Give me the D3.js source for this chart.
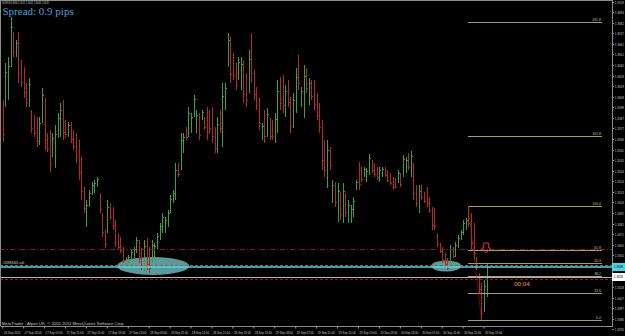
<!DOCTYPE html>
<html><head><meta charset="utf-8">
<script src="https://cdn.jsdelivr.net/npm/d3@7"></script>
<style>html,body{margin:0;padding:0;background:#000;overflow:hidden}svg{display:block}
.spread{font-family:"Liberation Serif","Times New Roman",serif;font-weight:400}</style>
</head><body>
<svg id="c" width="625" height="336"></svg>
<script>
// ---- data (EURUSD, M30) ----
const highs=[1.3605,1.3642,1.3648,1.3688,1.3673,1.3665,1.3673,1.3645,1.3638,1.3622,
1.3627,1.3595,1.3590,1.3588,1.3588,1.3617,1.3607,1.3572,1.3575,1.3572,
1.3580,1.3592,1.3602,1.3605,1.3585,1.3583,1.3583,1.3575,1.3572,1.3565,
1.3548,1.3518,1.3505,1.3515,1.3523,1.3525,1.3528,1.3512,1.3492,1.3475,
1.3505,1.3502,1.3498,1.3485,1.3472,1.3468,1.3458,1.3448,1.3450,1.3455,
1.3458,1.3468,1.3465,1.3457,1.3465,1.3467,1.3458,1.3465,1.3462,1.3472,
1.3482,1.3492,1.3488,1.3495,1.3510,1.3515,1.3542,1.3542,1.3572,1.3572,
1.3578,1.3598,1.3592,1.3610,1.3595,1.3592,1.3595,1.3588,1.3598,1.3595,
1.3598,1.3578,1.3588,1.3595,1.3622,1.3622,1.3672,1.3668,1.3652,1.3642,
1.3648,1.3648,1.3645,1.3632,1.3655,1.3672,1.3635,1.3618,1.3608,1.3582,
1.3595,1.3597,1.3587,1.3585,1.3592,1.3625,1.3628,1.3630,1.3620,1.3625,
1.3608,1.3612,1.3637,1.3650,1.3618,1.3640,1.3637,1.3627,1.3625,1.3625,
1.3612,1.3602,1.3585,1.3565,1.3565,1.3558,1.3525,1.3523,1.3522,1.3513,
1.3522,1.3512,1.3505,1.3500,1.3508,1.3525,1.3543,1.3538,1.3538,1.3537,
1.3551,1.3545,1.3542,1.3538,1.3538,1.3538,1.3538,1.3535,1.3532,1.3528,
1.3527,1.3535,1.3532,1.3550,1.3548,1.3552,1.3554,1.3542,1.3520,1.3520,
1.3520,1.3513,1.3518,1.3508,1.3498,1.3497,1.3472,1.3462,1.3458,1.3452,
1.3447,1.3460,1.3458,1.3463,1.3470,1.3475,1.3485,1.3487,1.3499,1.3492,
1.3482,1.3448,1.3432,1.3422,1.3425,1.3442];
const lows=[1.3563,1.3598,1.3605,1.3638,1.3648,1.3648,1.3622,1.3618,1.3607,1.3598,
1.3598,1.3572,1.3568,1.3558,1.3560,1.3582,1.3555,1.3553,1.3533,1.3548,
1.3537,1.3567,1.3568,1.3565,1.3567,1.3568,1.3562,1.3555,1.3542,1.3525,
1.3505,1.3492,1.3478,1.3498,1.3510,1.3512,1.3518,1.3492,1.3468,1.3457,
1.3472,1.3485,1.3475,1.3458,1.3455,1.3452,1.3442,1.3440,1.3442,1.3445,
1.3447,1.3452,1.3442,1.3435,1.3433,1.3435,1.3432,1.3442,1.3445,1.3455,
1.3465,1.3472,1.3472,1.3478,1.3492,1.3502,1.3505,1.3528,1.3535,1.3552,
1.3565,1.3568,1.3572,1.3588,1.3572,1.3565,1.3585,1.3575,1.3565,1.3572,
1.3562,1.3552,1.3552,1.3572,1.3558,1.3595,1.3638,1.3622,1.3625,1.3615,
1.3625,1.3615,1.3602,1.3598,1.3612,1.3622,1.3605,1.3595,1.3575,1.3565,
1.3562,1.3568,1.3565,1.3565,1.3562,1.3572,1.3595,1.3592,1.3588,1.3598,
1.3572,1.3577,1.3592,1.3615,1.3598,1.3587,1.3612,1.3600,1.3605,1.3595,
1.3585,1.3572,1.3535,1.3528,1.3517,1.3535,1.3502,1.3498,1.3483,1.3485,
1.3482,1.3488,1.3482,1.3482,1.3488,1.3515,1.3515,1.3523,1.3528,1.3523,
1.3530,1.3532,1.3528,1.3525,1.3523,1.3528,1.3528,1.3523,1.3520,1.3515,
1.3517,1.3522,1.3518,1.3528,1.3532,1.3535,1.3528,1.3505,1.3498,1.3492,
1.3505,1.3502,1.3498,1.3492,1.3475,1.3475,1.3458,1.3452,1.3442,1.3438,
1.3435,1.3438,1.3447,1.3448,1.3457,1.3465,1.3470,1.3475,1.3478,1.3455,
1.3445,1.3435,1.3412,1.3385,1.3393,1.3408];
const opens=[1.3597,1.3607,1.3614,1.3648,1.3668,1.3651,1.3663,1.3640,1.3632,1.3617,
1.3604,1.3590,1.3586,1.3582,1.3566,1.3589,1.3597,1.3568,1.3567,1.3553,
1.3546,1.3572,1.3575,1.3597,1.3581,1.3571,1.3579,1.3571,1.3566,1.3557,
1.3539,1.3513,1.3483,1.3501,1.3513,1.3515,1.3520,1.3508,1.3487,1.3471,
1.3479,1.3499,1.3493,1.3480,1.3469,1.3465,1.3455,1.3442,1.3444,1.3447,
1.3449,1.3455,1.3460,1.3453,1.3439,1.3461,1.3453,1.3447,1.3448,1.3458,
1.3468,1.3476,1.3475,1.3481,1.3496,1.3505,1.3512,1.3539,1.3542,1.3556,
1.3575,1.3574,1.3576,1.3592,1.3577,1.3587,1.3587,1.3585,1.3591,1.3590,
1.3591,1.3573,1.3559,1.3590,1.3571,1.3600,1.3645,1.3659,1.3647,1.3637,
1.3630,1.3622,1.3636,1.3625,1.3621,1.3662,1.3629,1.3613,1.3601,1.3568,
1.3588,1.3574,1.3583,1.3581,1.3568,1.3583,1.3621,1.3622,1.3594,1.3620,
1.3601,1.3584,1.3601,1.3643,1.3602,1.3598,1.3632,1.3605,1.3621,1.3619,
1.3607,1.3596,1.3575,1.3558,1.3527,1.3553,1.3507,1.3518,1.3491,1.3507,
1.3490,1.3507,1.3487,1.3486,1.3492,1.3517,1.3537,1.3535,1.3530,1.3526,
1.3534,1.3542,1.3539,1.3535,1.3526,1.3530,1.3536,1.3533,1.3530,1.3525,
1.3525,1.3525,1.3529,1.3532,1.3535,1.3549,1.3533,1.3535,1.3516,1.3498,
1.3517,1.3511,1.3514,1.3505,1.3493,1.3493,1.3469,1.3460,1.3455,1.3449,
1.3445,1.3442,1.3456,1.3451,1.3460,1.3467,1.3473,1.3477,1.3494,1.3485,
1.3475,1.3445,1.3428,1.3415,1.3399,1.3415];
const closes=[1.3571,1.3633,1.3639,1.3678,1.3653,1.3662,1.3632,1.3623,1.3613,1.3603,
1.3621,1.3577,1.3572,1.3564,1.3582,1.3610,1.3565,1.3557,1.3541,1.3567,
1.3571,1.3587,1.3595,1.3573,1.3571,1.3580,1.3566,1.3559,1.3548,1.3533,
1.3514,1.3497,1.3500,1.3512,1.3520,1.3522,1.3526,1.3496,1.3473,1.3461,
1.3498,1.3488,1.3480,1.3463,1.3458,1.3455,1.3445,1.3446,1.3448,1.3453,
1.3456,1.3465,1.3447,1.3439,1.3459,1.3441,1.3437,1.3460,1.3459,1.3469,
1.3479,1.3488,1.3485,1.3492,1.3506,1.3512,1.3535,1.3531,1.3565,1.3568,
1.3568,1.3592,1.3588,1.3606,1.3590,1.3570,1.3593,1.3578,1.3572,1.3577,
1.3569,1.3557,1.3581,1.3577,1.3609,1.3617,1.3665,1.3631,1.3630,1.3620,
1.3643,1.3641,1.3611,1.3605,1.3646,1.3632,1.3611,1.3600,1.3582,1.3579,
1.3569,1.3591,1.3569,1.3569,1.3586,1.3614,1.3602,1.3600,1.3614,1.3603,
1.3579,1.3605,1.3628,1.3622,1.3614,1.3629,1.3617,1.3622,1.3609,1.3601,
1.3590,1.3578,1.3545,1.3535,1.3555,1.3540,1.3520,1.3503,1.3514,1.3491,
1.3514,1.3493,1.3500,1.3496,1.3504,1.3523,1.3521,1.3526,1.3536,1.3534,
1.3547,1.3535,1.3531,1.3528,1.3535,1.3536,1.3530,1.3525,1.3522,1.3518,
1.3519,1.3532,1.3521,1.3546,1.3545,1.3538,1.3549,1.3512,1.3502,1.3514,
1.3508,1.3504,1.3502,1.3495,1.3480,1.3479,1.3461,1.3454,1.3445,1.3441,
1.3437,1.3456,1.3449,1.3460,1.3467,1.3473,1.3482,1.3485,1.3482,1.3462,
1.3452,1.3438,1.3416,1.3392,1.3419,1.3428];

const timeLabels=["26 Sep 2011","27 Sep 03:00","27 Sep 07:00","27 Sep 11:00","27 Sep 15:00","27 Sep 19:00",
"27 Sep 23:00","28 Sep 03:00","28 Sep 07:00","28 Sep 11:00","28 Sep 15:00","28 Sep 19:00",
"28 Sep 23:00","29 Sep 03:00","29 Sep 07:00","29 Sep 11:00","29 Sep 15:00","29 Sep 19:00",
"29 Sep 23:00","30 Sep 03:00","30 Sep 07:00","30 Sep 11:00","30 Sep 15:00","30 Sep 19:00"];
const priceTicks=[1.3703,1.3693,1.3682,1.3672,1.3661,1.3651,1.3640,1.3629,1.3619,1.3608,
1.3598,1.3587,1.3577,1.3566,1.3555,1.3545,1.3534,1.3524,1.3513,1.3503,
1.3492,1.3481,1.3471,1.3460,1.3450,1.3439,1.3429,1.3418,1.3407,1.3397,
1.3386,1.3376];
const fibLevels=[0,23.6,38.2,50.0,61.8,100.0,161.8,261.8];
const orderPrice=1.3438;       // cyan order line
const levelDashDot=1.3456;     // red dash-dot level
const levelOrange=1.3440;      // orange dashed level
const levelRedLow=1.3426;      // red dashed level
const arrowPrice=1.3452;       // down arrow tip
const timerPrice=1.3421;       // candle timer
const ellipses=[{bar:57.5,price:1.3439,halfBars:13.8,halfPrice:0.0009},
                {bar:169.5,price:1.3439,halfBars:5.7,halfPrice:0.00055}];

// ---- layout ----
const svg=d3.select("#c");
const W=625,H=336,axisX=612,plotBottom=326;
const x=d3.scaleLinear().domain([0,185]).range([2.7,486.7]);
const y=d3.scaleLinear().domain([1.3385,1.3705]).range([320,0]);
const GREEN="#3f9f3f",RED="#b02a2a";
const n=highs.length;
const px=v=>Math.round(v)+0.5;
const SANS="Liberation Sans, Arial, sans-serif";
const fmt=d3.format(".4f");

svg.append("rect").attr("width",W).attr("height",H).attr("fill","#000");

// ellipses (background)
svg.append("g").selectAll("ellipse").data(ellipses).join("ellipse")
  .attr("cx",d=>x(d.bar)).attr("cy",d=>y(d.price))
  .attr("rx",d=>x(d.bar+d.halfBars)-x(d.bar))
  .attr("ry",d=>y(d.price-d.halfPrice)-y(d.price))
  .attr("fill","#5a9a9c");

// bars
const bars=svg.append("g").attr("shape-rendering","crispEdges");
bars.selectAll("path").data(d3.range(n)).join("path")
  .attr("d",i=>{const xi=px(x(i));return `M${xi},${y(highs[i])}V${y(lows[i])}M${xi-1},${y(opens[i])}H${xi}M${xi},${y(closes[i])}H${xi+1}`;})
  .attr("stroke",i=>closes[i]>=opens[i]?GREEN:RED).attr("stroke-width",1).attr("fill","none");

// horizontal levels
const hl=svg.append("g").attr("shape-rendering","crispEdges");
function hLine(p,color,dash,w){hl.append("line").attr("x1",0).attr("x2",axisX)
  .attr("y1",px(y(p))).attr("y2",px(y(p))).attr("stroke",color).attr("stroke-width",w||1)
  .attr("stroke-dasharray",dash||null);}
hLine(levelDashDot,"#8a1e1e","5,2,1,2");
hLine(levelOrange,"#a85a28","3,2");
hLine(levelRedLow,"#8a1e1e","3,2");
hLine(closes[n-1],"#b8b8b8",null);

// fibonacci
const fLow=d3.min(lows.slice(170)),fHigh=highs[178];
const fg=svg.append("g");
const fx1=x(178),fx2=x(229);
fibLevels.forEach(l=>{
  const p=fLow+(fHigh-fLow)*l/100, yy=px(y(p));
  fg.append("line").attr("x1",fx1).attr("x2",fx2).attr("y1",yy).attr("y2",yy)
    .attr("stroke","#a0a068").attr("shape-rendering","crispEdges");
  fg.append("text").attr("x",fx2-1).attr("y",yy-1.2).attr("text-anchor","end")
    .attr("font-family",SANS).attr("font-size",3.4).attr("fill","#c8c878").text(l.toFixed(1));
});
fg.append("line").attr("x1",x(178)).attr("y1",y(fHigh)).attr("x2",x(183)).attr("y2",y(fLow))
  .attr("stroke","#b02020").attr("stroke-dasharray","1,1");

// cyan order line
svg.append("line").attr("x1",0).attr("x2",axisX).attr("y1",y(orderPrice)).attr("y2",y(orderPrice))
  .attr("stroke","#48d8e4").attr("stroke-width",1.6);
svg.append("text").attr("x",2.5).attr("y",y(orderPrice)-2.6).attr("font-family",SANS)
  .attr("font-size",3.2).attr("fill","#dddddd").text("#20983461 sell");

// down arrow
const ax=x(184.8),ay=y(arrowPrice);
svg.append("path").attr("d",`M${ax-2.5},${ay-10}H${ax+2.5}V${ay-5}H${ax+4.5}L${ax},${ay}L${ax-4.5},${ay-5}H${ax-2.5}Z`)
  .attr("fill","none").attr("stroke","#e03030").attr("stroke-width",1);

// candle timer
svg.append("text").attr("x",x(195.5)).attr("y",y(timerPrice)+2).attr("font-family",SANS)
  .attr("font-size",6.2).attr("fill","#e8a040").text("00:04");

// frame
svg.append("path").attr("d",`M0.5,${plotBottom}V0.5H${axisX+0.5}V${plotBottom+0.5}H0.5`)
  .attr("fill","none").attr("stroke","#8c8c8c").attr("shape-rendering","crispEdges");

// right price axis (labels hidden where the price boxes sit)
const boxPrices=[orderPrice,closes[n-1]];
const shownTicks=priceTicks.filter(p=>boxPrices.every(b=>Math.abs(y(p)-y(b))>6));
const ra=svg.append("g").attr("transform",`translate(${axisX+0.5},0)`)
  .call(d3.axisRight(y).tickValues(shownTicks).tickSize(1.5).tickPadding(0.8).tickFormat(fmt));
ra.select(".domain").remove();
ra.selectAll("line").attr("stroke","#9a9a9a");
ra.selectAll("text").attr("font-family",SANS).attr("font-size",3.1)
  .attr("fill","#c8c8c8").attr("textLength",9).attr("lengthAdjust","spacingAndGlyphs");

// price boxes
function priceBox(p,bg){const yy=y(p);
  svg.append("rect").attr("x",axisX).attr("y",yy-4).attr("width",W-axisX).attr("height",8).attr("fill",bg);
  svg.append("text").attr("x",axisX+2).attr("y",yy+1.3).attr("font-family",SANS)
    .attr("font-size",3.2).attr("fill","#000").attr("textLength",9).attr("lengthAdjust","spacingAndGlyphs")
    .text(fmt(p));}
priceBox(orderPrice,"#48d8e4");
priceBox(closes[n-1],"#ffffff");

// bottom time axis
const tickIdx=timeLabels.map((d,i)=>i*8);
const ba=svg.append("g").attr("transform",`translate(0,${plotBottom+0.5})`)
  .call(d3.axisBottom(x).tickValues(tickIdx).tickSize(2).tickFormat((d,i)=>timeLabels[i]));
ba.select(".domain").remove();
ba.selectAll("line").attr("stroke","#9a9a9a").attr("transform","translate(-0.5,0)");
ba.selectAll("text").attr("text-anchor","start").attr("dx",0.5).attr("dy",0).attr("y",7.3)
  .attr("font-family",SANS).attr("font-size",3.4).attr("fill","#c8c8c8")
  .attr("textLength",17).attr("lengthAdjust","spacingAndGlyphs");

// header texts
svg.append("text").attr("x",2.5).attr("y",4.2).attr("font-family",SANS).attr("font-size",3.3)
  .attr("fill","#c8c8c8").attr("textLength",46).attr("lengthAdjust","spacingAndGlyphs")
  .text(`EURUSD,M30 ${opens[n-1].toFixed(4)} ${highs[n-1].toFixed(4)} ${lows[n-1].toFixed(4)} ${closes[n-1].toFixed(4)}`);
svg.append("text").attr("class","spread").attr("x",2.5).attr("y",15)
  .attr("font-size",11).attr("fill","#45a3dc").text("Spread: 0.9 pips");
svg.append("text").attr("x",1.8).attr("y",325).attr("font-family",SANS).attr("font-size",3.6)
  .attr("fill","#c8c8c8").attr("textLength",123).attr("lengthAdjust","spacingAndGlyphs")
  .text("MetaTrader - Alpari UK, © 2001-2011 MetaQuotes Software Corp.");
</script>
</body></html>
